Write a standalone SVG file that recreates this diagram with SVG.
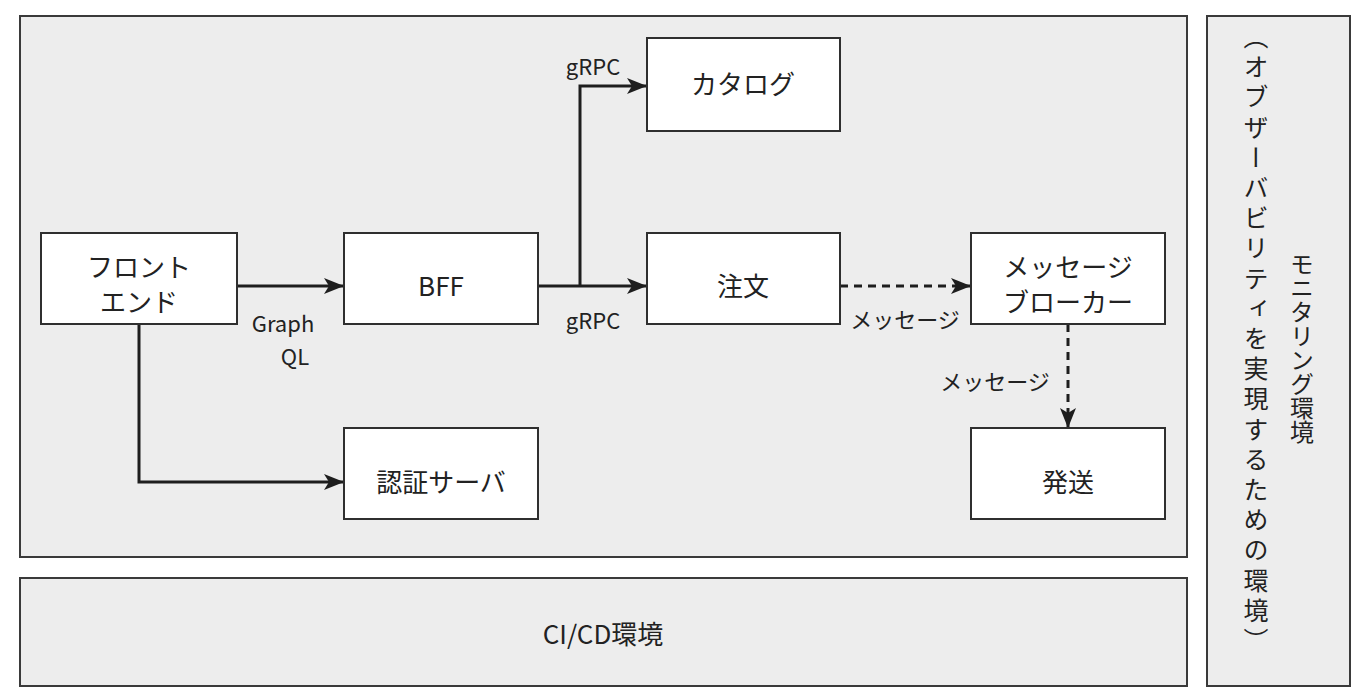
<svg xmlns="http://www.w3.org/2000/svg" width="1367" height="700" viewBox="0 0 1367 700">
<defs>
<style>
.panel{fill:#ededed;stroke:#3a3a3a;stroke-width:2}
.node{fill:#ffffff;stroke:#2f2f2f;stroke-width:2}
text{font-family:"Noto Sans CJK JP","Noto Sans",sans-serif;fill:#222}
.lbl{font-size:26px;text-anchor:middle}
.sm{font-size:22px;text-anchor:middle}
.conn{fill:none;stroke:#1e1e1e;stroke-width:3}
.dash{stroke-dasharray:8 6}
</style>
<marker id="arr2" viewBox="0 0 20 16" refX="19" refY="8" markerWidth="20" markerHeight="16" markerUnits="userSpaceOnUse" orient="auto">
<path d="M0,0 L20,8 L0,16 L5,8 Z" fill="#1e1e1e"/>
</marker>
</defs>
<rect width="1367" height="700" fill="#ffffff"/>
<g id="main-env"><rect class="panel" x="20" y="16" width="1167" height="541"/></g>
<g id="cicd-env"><rect class="panel" x="20" y="578" width="1167" height="108"/><text class="lbl" x="603" y="644">CI/CD環境</text></g>
<g id="monitoring-env"><rect class="panel" x="1207" y="16" width="143" height="670"/>
<text x="1302" y="252" style="writing-mode:vertical-rl;font-size:24px">モニタリング環境</text>
<text x="1256" y="24" style="writing-mode:vertical-rl;font-size:25px;letter-spacing:5.2px">（オブザーバビリティを実現するための環境）</text>
</g>
<g id="connectors">
<path class="conn" d="M237,286 H343" marker-end="url(#arr2)"/>
<path class="conn" d="M538,286 H646" marker-end="url(#arr2)"/>
<path class="conn" d="M580,286 V86 H646" marker-end="url(#arr2)"/>
<path class="conn" d="M139,324 V482 H343" marker-end="url(#arr2)"/>
<path class="conn dash" d="M840,286 H970" marker-end="url(#arr2)"/>
<path class="conn dash" d="M1068,324 V427" marker-end="url(#arr2)"/>
<text class="sm" x="593" y="75">gRPC</text>
<text class="sm" x="593" y="329">gRPC</text>
<text class="sm" x="283" y="332">Graph</text>
<text class="sm" x="295" y="365">QL</text>
<text class="sm" x="905" y="328">メッセージ</text>
<text class="sm" x="995" y="390">メッセージ</text>
</g>
<g id="frontend"><rect class="node" x="41" y="233" width="196" height="91"/><text class="lbl" x="139" y="277">フロント</text><text class="lbl" x="139" y="312">エンド</text></g>
<g id="bff"><rect class="node" x="344" y="233" width="194" height="91"/><text class="lbl" x="441" y="296">BFF</text></g>
<g id="catalog"><rect class="node" x="647" y="38" width="193" height="93"/><text class="lbl" x="743" y="94">カタログ</text></g>
<g id="order"><rect class="node" x="647" y="233" width="193" height="91"/><text class="lbl" x="743" y="296">注文</text></g>
<g id="broker"><rect class="node" x="971" y="233" width="194" height="91"/><text class="lbl" x="1068" y="277">メッセージ</text><text class="lbl" x="1068" y="312">ブローカー</text></g>
<g id="auth"><rect class="node" x="344" y="428" width="194" height="91"/><text class="lbl" x="441" y="492">認証サーバ</text></g>
<g id="shipping"><rect class="node" x="971" y="428" width="194" height="91"/><text class="lbl" x="1068" y="492">発送</text></g>
</svg>
